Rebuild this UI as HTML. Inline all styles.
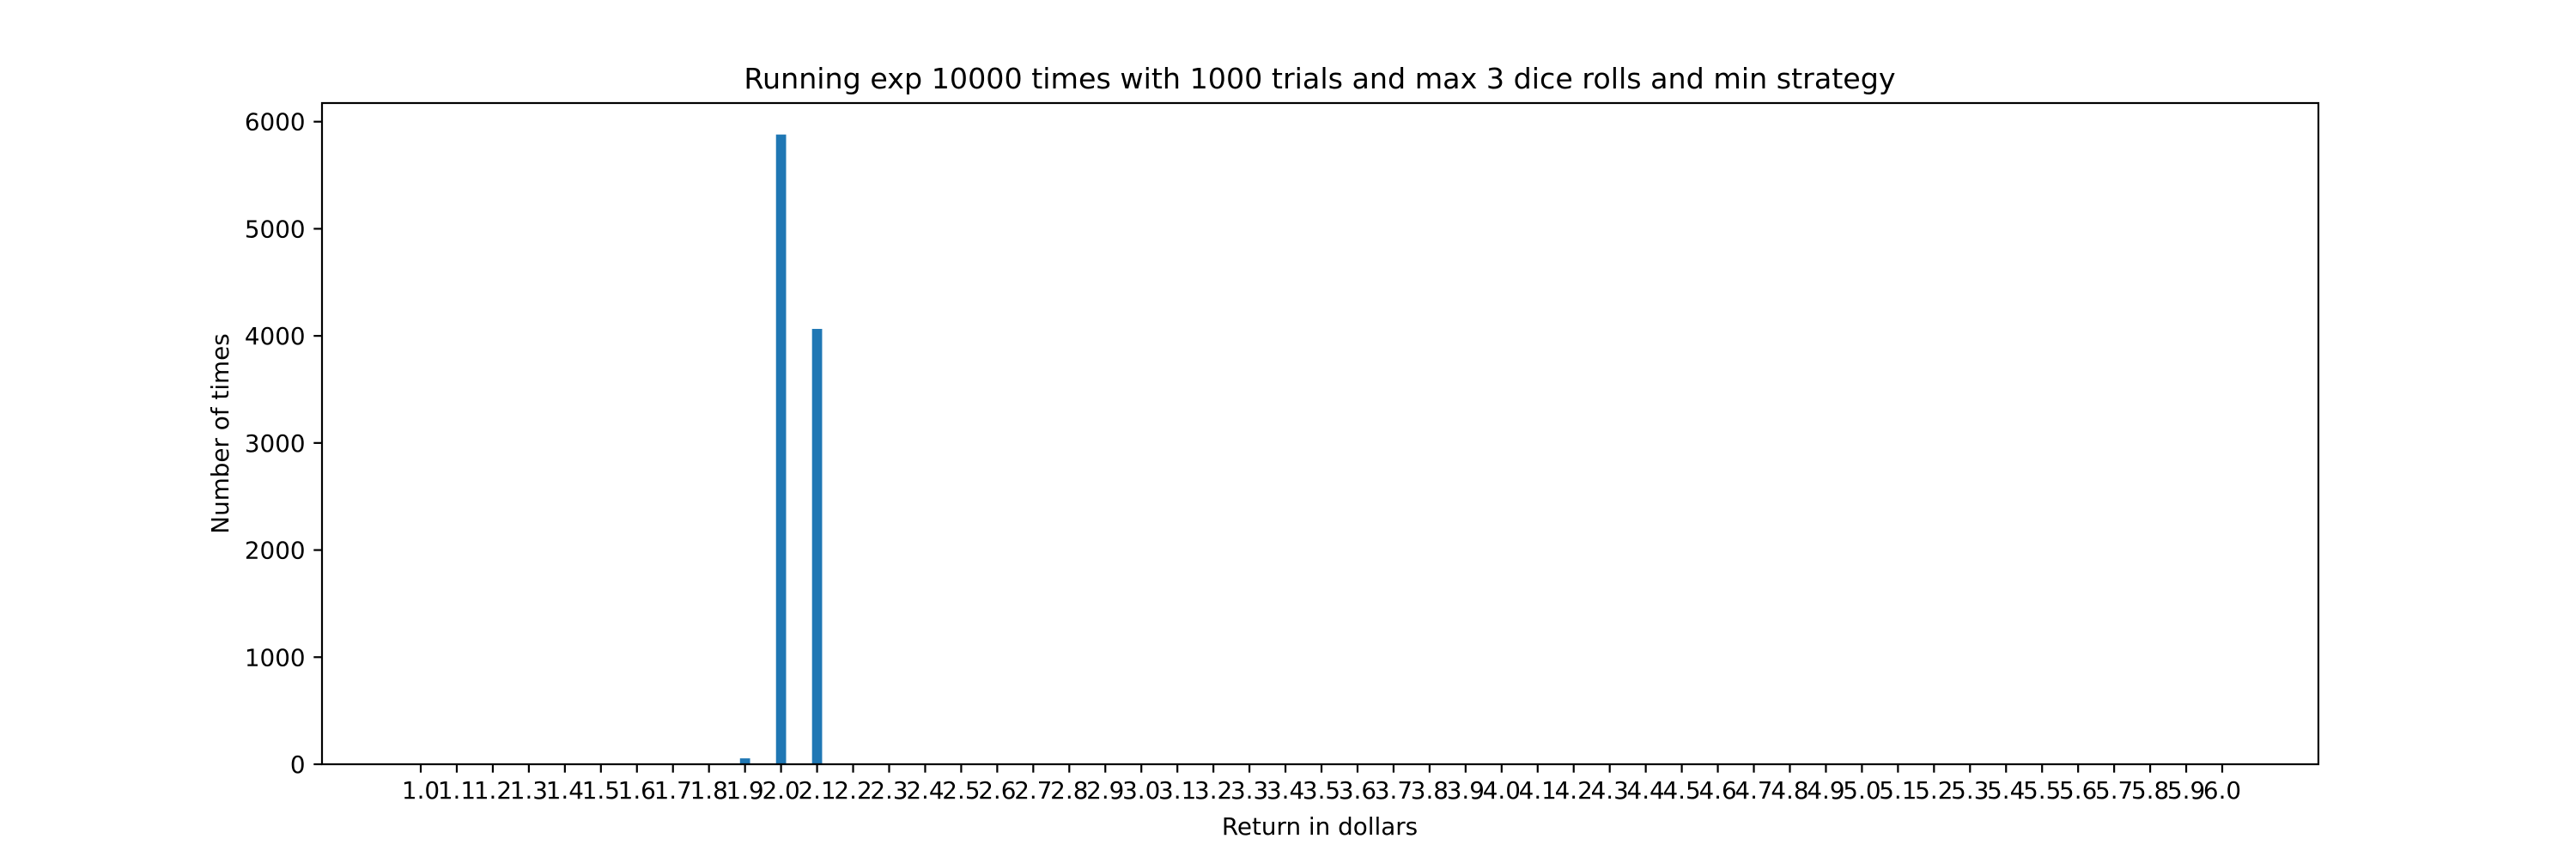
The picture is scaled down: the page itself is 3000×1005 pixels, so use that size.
<!DOCTYPE html>
<html><head><meta charset="utf-8"><style>
html,body{margin:0;padding:0;background:#fff;}
svg text{font-family:"DejaVu Sans","Liberation Sans",sans-serif;fill:#000;}
</style></head><body>
<svg id="chart" width="3000" height="1000" xmlns="http://www.w3.org/2000/svg">
<rect x="0" y="0" width="3000" height="1000" fill="#fff"/>
<text x="1537" y="103" font-size="33.3" text-anchor="middle">Running exp 10000 times with 1000 trials and max 3 dice rolls and min strategy</text>
<g id="bars"></g>
<g id="yticks"></g>
<g id="xticks"></g>
<rect x="375" y="120" width="2325" height="770" fill="none" stroke="#000" stroke-width="2.2"/>
<text x="1537" y="972" font-size="27.8" text-anchor="middle">Return in dollars</text>
<text transform="translate(266,505) rotate(-90)" font-size="27.8" text-anchor="middle">Number of times</text>
</svg>
<script>
const categories = [];
for (let i = 0; i <= 50; i++) categories.push(+(1 + i * 0.1).toFixed(1));
const tickLabels = categories.map(c => c.toFixed(1));
const barCategories = [1.9, 2.0, 2.1];
const barValues = [55, 5880, 4065];
const yTicks = [0, 1000, 2000, 3000, 4000, 5000, 6000];

const L = 375, R = 2700, T = 120, B = 890;
const xMin = 1 - 0.2741, xMax = 6 + 0.2669;
const yMax = 6174;
const sx = v => L + (v - xMin) / (xMax - xMin) * (R - L);
const sy = v => B - v / yMax * (B - T);
const NS = 'http://www.w3.org/2000/svg';
const barW = sx(1.028) - sx(1.0);

const gb = document.getElementById('bars');
barCategories.forEach((c, i) => {
  const r = document.createElementNS(NS, 'rect');
  r.setAttribute('x', sx(c) - barW / 2);
  r.setAttribute('y', sy(barValues[i]));
  r.setAttribute('width', barW);
  r.setAttribute('height', B - sy(barValues[i]));
  r.setAttribute('fill', '#1f77b4');
  
  
  gb.appendChild(r);
});

const gy = document.getElementById('yticks');
yTicks.forEach(v => {
  const y = sy(v);
  const l = document.createElementNS(NS, 'line');
  l.setAttribute('x1', L - 9.7); l.setAttribute('x2', L);
  l.setAttribute('y1', y); l.setAttribute('y2', y);
  l.setAttribute('stroke', '#000'); l.setAttribute('stroke-width', '2.2');
  
  
  gy.appendChild(l);
  const t = document.createElementNS(NS, 'text');
  t.setAttribute('x', L - 19.4); t.setAttribute('y', y + 10);
  t.setAttribute('font-size', '27.8'); t.setAttribute('text-anchor', 'end');
  t.textContent = String(v);
  
  
  gy.appendChild(t);
});

const gx = document.getElementById('xticks');
categories.forEach((c, i) => {
  const x = sx(c);
  const l = document.createElementNS(NS, 'line');
  l.setAttribute('x1', x); l.setAttribute('x2', x);
  l.setAttribute('y1', B); l.setAttribute('y2', B + 9.7);
  l.setAttribute('stroke', '#000'); l.setAttribute('stroke-width', '2.2');
  
  
  gx.appendChild(l);
  const t = document.createElementNS(NS, 'text');
  t.setAttribute('x', x); t.setAttribute('y', B + 40);
  t.setAttribute('font-size', '27.8'); t.setAttribute('text-anchor', 'middle');
  t.textContent = tickLabels[i];
  
  
  gx.appendChild(t);
});
</script>
</body></html>
